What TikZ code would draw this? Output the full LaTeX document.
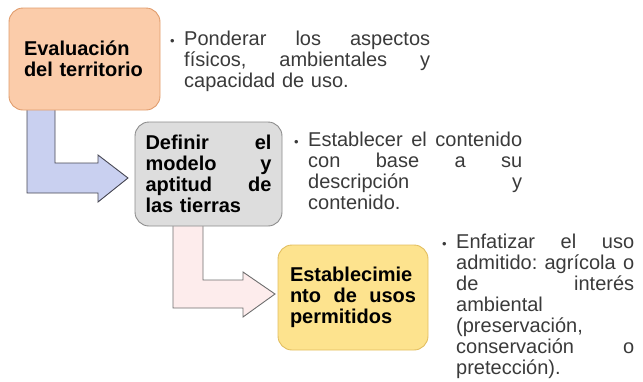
\documentclass[tikz,border=0pt]{standalone}
\usepackage{fontspec}
\setmainfont{Liberation Sans}
\usepackage{xcolor}
\usepackage{tikz}
\usetikzlibrary{calc}

\definecolor{peachfill}{RGB}{251,204,170}
\definecolor{peachline}{RGB}{224,156,108}
\definecolor{grayfill}{RGB}{221,221,221}
\definecolor{grayline}{RGB}{140,140,140}
\definecolor{yellowfill}{RGB}{253,227,142}
\definecolor{yellowline}{RGB}{226,190,96}
\definecolor{bluefill}{RGB}{201,208,240}
\definecolor{blueline}{RGB}{72,72,84}
\definecolor{pinkfill}{RGB}{253,236,236}
\definecolor{pinkline}{RGB}{110,110,110}
\definecolor{notegray}{RGB}{58,58,58}

\frenchspacing
\newcommand{\jrow}[2]{{\spaceskip=0pt\xspaceskip=0pt\makebox[#1][s]{#2}}}
\newcommand{\dotmark}{\llap{{\fontsize{13}{13}\selectfont\textbullet}\hspace{9.5pt}}}

\begin{document}
\begin{tikzpicture}[x=1pt, y=-1pt,
		box/.style={draw, rounded corners=14pt, line width=0.9pt, align=left,
			text=black, font=\fontsize{20}{21}\selectfont\bfseries},
		bendarrow/.style={line width=0.9pt, line join=miter},
		note/.style={anchor=north west, inner sep=0pt, align=left,
			text=notegray, font=\fontsize{20}{21}\selectfont}]
		\useasboundingbox (0,0) rectangle (643,381);
		% flechas en L
		\coordinate (A1) at (27,100);
		\coordinate (B1) at (55,163);
		\coordinate (C1) at (98,155);
		\coordinate (T1) at (128,178);
		\coordinate (D1) at (98,193);
		\draw[bendarrow, fill=bluefill, draw=blueline] (A1) -- (A1 -| B1) -- (B1) -- (B1 -| C1) -- (C1)
			-- (T1) -- (98,202) -- (D1) -- (D1 -| A1) -- cycle;
		\coordinate (A2) at (173,216);
		\coordinate (B2) at (203,280);
		\coordinate (C2) at (243,272);
		\coordinate (T2) at (275,294);
		\coordinate (D2) at (243,308);
		\draw[bendarrow, fill=pinkfill, draw=pinkline] (A2) -- (A2 -| B2) -- (B2) -- (B2 -| C2) -- (C2)
			-- (T2) -- (243,317) -- (D2) -- (D2 -| A2) -- cycle;
		% cajas
		\node[box, fill=peachfill, draw=peachline, text width=121pt, inner xsep=15pt,
			minimum height=102pt] (eval) at (84.5,59) {Evaluación\\del territorio};
		\node[box, fill=grayfill, draw=grayline, text width=126pt, inner xsep=10.5pt,
			minimum height=104pt] (modelo) at (208.5,174)
			{\jrow{126pt}{Definir el}\\\jrow{126pt}{modelo y}\\\jrow{126pt}{aptitud de}\\las tierras};
		\node[box, fill=yellowfill, draw=yellowline, text width=126pt, inner xsep=12pt,
			minimum height=105pt] (usos) at (353,297.5)
			{Establecimie\\\jrow{126pt}{nto de usos}\\permitidos};
		% notas
		\node[note, text width=246pt] (nota1) at (184,31)
			{\dotmark\jrow{246pt}{Ponderar los aspectos}\\\jrow{246pt}{físicos, ambientales y}\\capacidad de uso.};
		\node[note, text width=214pt] (nota2) at (308,132)
			{\dotmark\jrow{214pt}{Establecer el contenido}\\\jrow{214pt}{con base a su}\\\jrow{214pt}{descripción y}\\contenido.};
		\node[note, text width=178pt] (nota3) at (456,234)
			{\dotmark\jrow{178pt}{Enfatizar el uso}\\\jrow{178pt}{admitido: agrícola o}\\\jrow{178pt}{de interés}\\ambiental\\(preservación,\\\jrow{178pt}{conservación o}\\pretección).};
	\end{tikzpicture}
\end{document}
